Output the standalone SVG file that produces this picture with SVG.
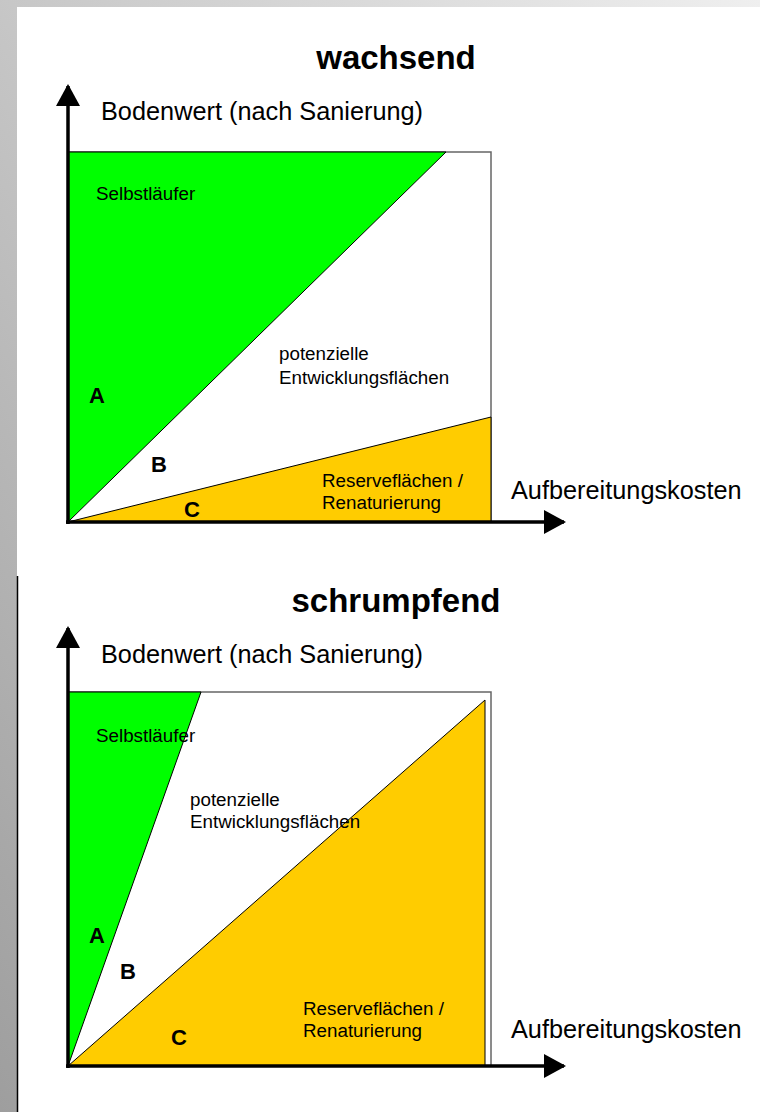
<svg xmlns="http://www.w3.org/2000/svg" width="760" height="1112" viewBox="0 0 760 1112">
<defs>
<linearGradient id="bg" x1="1" y1="0" x2="0" y2="1">
<stop offset="0" stop-color="#efefef"/>
<stop offset="1" stop-color="#9e9e9e"/>
</linearGradient>
<marker id="ah" markerWidth="22" markerHeight="24" refX="20" refY="12" orient="auto" markerUnits="userSpaceOnUse">
<path d="M0,0 L22,12 L0,24 Z" fill="#000"/>
</marker>
</defs>
<style>
text{font-family:"Liberation Sans",Arial,sans-serif;fill:#000}
.t{font-size:33px;font-weight:bold}
.ax{font-size:25.3px}
.s{font-size:18.8px}
.b{font-size:22px;font-weight:bold}
.axis{stroke:#000;stroke-width:3.5;fill:none}
.box{fill:#fff;stroke:#666;stroke-width:1.5}
.g{fill:#00ff00;stroke:#000;stroke-width:1}
.o{fill:#ffcc00;stroke:#000;stroke-width:1}
</style>
<rect x="0" y="0" width="760" height="1112" fill="url(#bg)"/>
<rect x="17" y="7" width="743" height="1105" fill="#fff"/>
<line x1="17.5" y1="576" x2="17.5" y2="1112" stroke="#000" stroke-width="1.5"/>

<g id="top-chart">
<g id="top-box"><rect class="box" x="68" y="152" width="423" height="370"/></g>
<g id="top-A"><polygon class="g" points="68,152 446,152 68,522"/></g>
<g id="top-C"><polygon class="o" points="68,522 491,417 491,522"/></g>
<text class="t" x="396" y="69" text-anchor="middle">wachsend</text>
<text class="ax" x="101" y="120">Bodenwert (nach Sanierung)</text>
<text class="s" x="96" y="200">Selbstläufer</text>
<text class="s" x="279" y="360">potenzielle</text>
<text class="s" x="279" y="384">Entwicklungsflächen</text>
<text class="b" x="89" y="403">A</text>
<text class="b" x="151" y="472">B</text>
<text class="b" x="184" y="517">C</text>
<text class="s" x="322" y="487">Reserveflächen /</text>
<text class="s" x="322" y="509">Renaturierung</text>
<text class="ax" x="511" y="499">Aufbereitungskosten</text>
</g>

<g id="bottom-chart">
<g id="bot-box"><rect class="box" x="68" y="692" width="423" height="374"/></g>
<g id="bot-A"><polygon class="g" points="68,692 201,692 68,1066"/></g>
<g id="bot-C"><polygon class="o" points="68,1066 485,700 485,1066"/></g>
<text class="t" x="396" y="612" text-anchor="middle">schrumpfend</text>
<text class="ax" x="101" y="663">Bodenwert (nach Sanierung)</text>
<text class="s" x="96" y="742">Selbstläufer</text>
<text class="s" x="190" y="806">potenzielle</text>
<text class="s" x="190" y="828">Entwicklungsflächen</text>
<text class="b" x="89" y="943">A</text>
<text class="b" x="120" y="979">B</text>
<text class="b" x="171" y="1045">C</text>
<text class="s" x="303" y="1015">Reserveflächen /</text>
<text class="s" x="303" y="1037">Renaturierung</text>
<text class="ax" x="511" y="1038">Aufbereitungskosten</text>
</g>

<g id="connectors">
<line class="axis" x1="68" y1="524" x2="68" y2="86" marker-end="url(#ah)"/>
<line class="axis" x1="66" y1="522" x2="564" y2="522" marker-end="url(#ah)"/>
<line class="axis" x1="68" y1="1068" x2="68" y2="628" marker-end="url(#ah)"/>
<line class="axis" x1="66" y1="1066" x2="564" y2="1066" marker-end="url(#ah)"/>
</g>
</svg>
